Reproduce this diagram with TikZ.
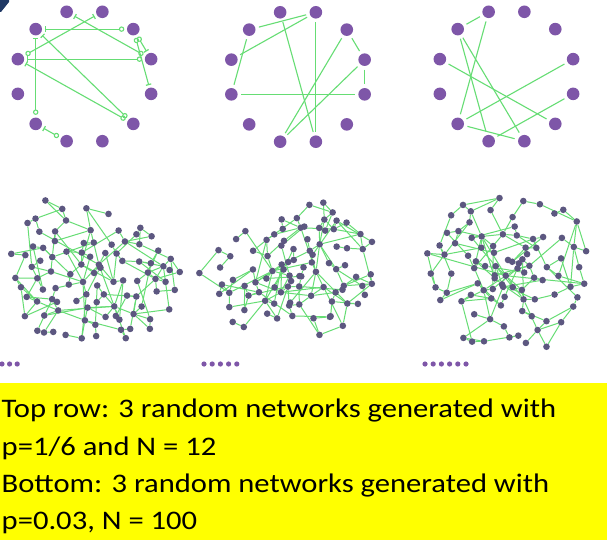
\documentclass[tikz,border=0pt]{standalone}
\usepackage{fontspec}
\setmainfont{Carlito}
\usetikzlibrary{arrows.meta}
\pgfdeclarelayer{back}
\pgfdeclarelayer{bg}
\pgfsetlayers{back,bg,main}
\definecolor{cpurple}{HTML}{7E56A8}
\definecolor{ngray}{HTML}{5C5780}
\definecolor{egreen}{HTML}{66DD74}
\definecolor{ybg}{HTML}{FFFF00}
\definecolor{navy}{HTML}{1F3864}
\tikzset{
  cdot/.style={circle,fill=cpurple,inner sep=0pt,minimum size=12.6pt},
  gdot/.style={circle,fill=ngray,inner sep=0pt,minimum size=6.6pt},
  idot/.style={circle,fill=cpurple,inner sep=0pt,minimum size=5.2pt},
  cedge/.style={draw=egreen,line width=1.1pt,shorten <=3.5pt,shorten >=3.5pt},
  tipedge/.style={draw=egreen,line width=1.1pt,shorten <=2.5pt,shorten >=2.5pt,
     {Bar[width=5.5pt,line width=1.2pt]}-{Circle[open,length=5.4pt,line width=1.1pt]}},
  netedge/.style={draw=egreen,line width=1pt},
  txt/.style={font=\fontsize{26.8}{30}\selectfont,inner sep=0pt,anchor=base west,text=black}
}
\newcommand\captext[1]{\scalebox{1.142}[1]{#1}}
% random network generator: #1 prefix, #2 seed, #3 n, #4 cx, #5 cy, #6 rx, #7 ry, #8 phase
\newcommand\netgen[8]{%
  \pgfmathsetseed{#2}%
  \foreach \i in {1,...,#3}{%
    \xdef\nndone{0}%
    \foreach \nnt in {1,...,6}{%
      \ifnum\nndone=0
        \pgfmathsetmacro\nna{360*rnd}%
        \pgfmathsetmacro\nnr{pow(rnd,0.88)*(1+0.09*sin(2*\nna+#8)+0.07*cos(3*\nna-#8))}%
        \pgfmathsetmacro\nnx{#4+#6*\nnr*cos(\nna)}%
        \pgfmathsetmacro\nny{#5+#7*\nnr*sin(\nna)}%
        \xdef\nnbj{0}\xdef\nnbd{9999}\xdef\nnsj{0}\xdef\nnc{0}%
        \ifnum\i>1
          \pgfmathtruncatemacro\nnim{\i-1}%
          \foreach \j in {1,...,\nnim}{%
            \pgfmathsetmacro\nndd{veclen(\nnx-\csname #1x\j\endcsname,\nny-\csname #1y\j\endcsname)}%
            \ifdim\nndd pt<\nnbd pt
              \xdef\nnbj{\j}\xdef\nnbd{\nndd}%
            \fi
            \ifdim\nndd pt>16pt \ifdim\nndd pt<45pt
              \pgfmathtruncatemacro\nncc{\nnc+1}\xdef\nnc{\nncc}%
              \pgfmathparse{rnd<1/\nnc}%
              \ifdim\pgfmathresult pt>0.5pt \xdef\nnsj{\j}\fi
            \fi\fi
          }%
        \fi
        \ifdim\nnbd pt>9pt \xdef\nndone{1}\fi
        \ifnum\nnt=6 \xdef\nndone{1}\fi
        \ifnum\nndone=1
          \expandafter\xdef\csname #1x\i\endcsname{\nnx}%
          \expandafter\xdef\csname #1y\i\endcsname{\nny}%
          \expandafter\xdef\csname #1b\i\endcsname{\nnbj}%
          \expandafter\xdef\csname #1s\i\endcsname{\nnsj}%
        \fi
      \fi
    }%
  }%
  \foreach \i in {1,...,#3}{%
    \edef\nnpx{\csname #1x\i\endcsname}%
    \edef\nnpy{\csname #1y\i\endcsname}%
    \node[gdot] (#1\i) at (\nnpx,\nnpy) {};%
  }%
  \begin{pgfonlayer}{bg}%
  \foreach \i in {2,...,#3}{%
    \edef\nnb{\csname #1b\i\endcsname}%
    \edef\nns{\csname #1s\i\endcsname}%
    \draw[netedge] (#1\i) -- (#1\nnb);%
    \pgfmathparse{rnd<0.62}%
    \ifdim\pgfmathresult pt>0.5pt
      \ifnum\nns>0 \ifnum\nns=\nnb\else
        \draw[netedge] (#1\i) -- (#1\nns);%
      \fi\fi
    \fi
  }%
  \end{pgfonlayer}%
}
\begin{document}
\begin{tikzpicture}[x=1pt,y=-1pt]
\begin{pgfonlayer}{back}
\fill[white] (0,0) rectangle (607,540);
\end{pgfonlayer}
\useasboundingbox (0,0) rectangle (607,540);
\fill[navy] (0,0) -- (9,0) -- (9,2) -- (1,12) -- (0,12) -- cycle;
% top row circles
\foreach \k in {0,...,11}{%
  \node[cdot] (A\k) at ({84.5+69*cos(75-30*\k)},{76.5-67*sin(75-30*\k)}) {};
  \node[cdot] (B\k) at ({298+69*cos(75-30*\k)},{77-67*sin(75-30*\k)}) {};
  \node[cdot] (C\k) at ({506.5+69*cos(75-30*\k)},{76.5-67*sin(75-30*\k)}) {};
}
\begin{pgfonlayer}{bg}
\foreach \a/\b in {10/1,11/2,0/9,9/2,10/7,10/4,9/4,7/6,3/1,2/1}{%
  \draw[tipedge] (A\a) -- (A\b);
}
\foreach \a/\b in {10/0,0/9,10/8,11/5,0/5,1/6,1/2,2/6,2/3,8/3}{%
  \draw[cedge] (B\a) -- (B\b);
}
\foreach \a/\b in {10/11,11/7,10/6,10/5,9/4,2/7,3/6,7/5}{%
  \draw[cedge] (C\a) -- (C\b);
}
\end{pgfonlayer}
% bottom row random networks
\netgen{P}{7}{97}{90}{273}{84}{78}{40}
\netgen{Q}{22}{95}{292}{273}{88}{68}{160}
\netgen{R}{45}{94}{508}{272}{88}{80}{280}
% isolated nodes
\foreach \k in {0,1,2}{\node[idot] (IP\k) at ({2+7.6*\k},364) {};}
\foreach \k in {0,...,4}{\node[idot] (IQ\k) at ({204+8.2*\k},364) {};}
\foreach \k in {0,...,5}{\node[idot] (IR\k) at ({425+8.2*\k},364) {};}
% caption
\fill[ybg] (0,383) rectangle (607,540);
\node[txt] (t1) at (1.5,417) {\captext{Top row: 3 random networks generated with}};
\node[txt] (t2) at (1.5,455) {\captext{p=1/6 and N = 12}};
\node[txt] (t3) at (1.5,492) {\captext{Bottom: 3 random networks generated with}};
\node[txt] (t4) at (1.5,529) {\captext{p=0.03, N = 100}};
\end{tikzpicture}
\end{document}
